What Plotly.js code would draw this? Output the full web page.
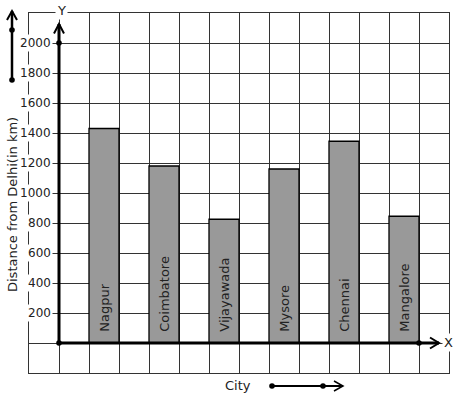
<!DOCTYPE html>
<html>
<head>
<meta charset="utf-8">
<script src="https://cdn.plot.ly/plotly-3.0.1.min.js"></script>
<style>html,body{margin:0;padding:0;background:#fff;}#chart{width:457px;height:399px;}</style>
</head>
<body>
<div id="chart"></div>
<script>
// ---- data ----
const cities = ["Nagpur", "Coimbatore", "Vijayawada", "Mysore", "Chennai", "Mangalore"];
const distances = [1430, 1180, 825, 1160, 1345, 845];
const yTickValues = [200, 400, 600, 800, 1000, 1200, 1400, 1600, 1800, 2000];
const xTitle = "City";
const yTitle = "Distance from Delhi(in km)";

// bars sit in every other grid column (1-2, 3-4, ...)
const xPos = cities.map((c, i) => 2 * i + 1.5);

const FONT = "DejaVu Sans, sans-serif";
const TXT = "#222";
const GRID = "#333";

const trace = {
  type: "bar",
  x: xPos,
  y: distances,
  width: 1,
  text: cities.map(c => "\u00a0\u00a0" + c),
  textposition: "inside",
  insidetextanchor: "start",
  textangle: -90,
  textfont: {family: FONT, size: 13, color: TXT},
  marker: {color: "#999999", line: {color: "#000", width: 1.3}},
  hoverinfo: "skip",
  cliponaxis: false
};

// helpers for decorations
const pxX = 1 / 30;        // data units per pixel (x)
const pxY = 200 / 30;      // data units per pixel (y)
// paper helpers (plot area: left 29px, top 13px, 420x360)
const PX = px => (px - 29) / 420;
const PY = py => (373 - py) / 360;

const dot = (xref, yref, x, y) => ({
  type: "circle", xref: xref, yref: yref, xsizemode: "pixel", ysizemode: "pixel",
  xanchor: x, yanchor: y, x0: -2.8, x1: 2.8, y0: -2.8, y1: 2.8,
  fillcolor: "#000", line: {color: "#000", width: 0}
});

const shapes = [
  // y axis
  {type: "line", xref: "x", yref: "y", x0: 0, x1: 0, y0: 0, y1: 319 * pxY, line: {color: "#000", width: 3}},
  {type: "path", xref: "x", yref: "y", path: `M ${-5*pxX} ${309.5*pxY} L 0 ${319*pxY} L ${5*pxX} ${309.5*pxY}`, line: {color: "#000", width: 2}},
  // x axis
  {type: "line", xref: "x", yref: "y", x0: 0, x1: 380 * pxX, y0: 0, y1: 0, line: {color: "#000", width: 3}},
  {type: "path", xref: "x", yref: "y", path: `M ${371*pxX} ${5.5*pxY} L ${380*pxX} 0 L ${371*pxX} ${-5.5*pxY}`, line: {color: "#000", width: 2}},
  dot("x", "y", 0, 0), dot("x", "y", 0, 2000), dot("x", "y", 12, 0),
  // left decorative arrow
  {type: "line", xref: "paper", yref: "paper", x0: PX(12), x1: PX(12), y0: PY(80), y1: PY(11), line: {color: "#000", width: 2.5}},
  {type: "path", xref: "paper", yref: "paper",
   path: `M ${PX(7)} ${PY(20)} L ${PX(12)} ${PY(11)} L ${PX(17)} ${PY(20)}`, line: {color: "#000", width: 2}},
  dot("paper", "paper", PX(12), PY(80)), dot("paper", "paper", PX(12), PY(30)),
  // bottom decorative arrow
  {type: "line", xref: "paper", yref: "paper", x0: PX(272), x1: PX(343), y0: PY(386), y1: PY(386), line: {color: "#000", width: 2}},
  {type: "path", xref: "paper", yref: "paper",
   path: `M ${PX(334)} ${PY(381)} L ${PX(343)} ${PY(386)} L ${PX(334)} ${PY(391)}`, line: {color: "#000", width: 1.5}},
  dot("paper", "paper", PX(272), PY(386)), dot("paper", "paper", PX(323), PY(386))
];

const annotations = [
  ...yTickValues.map(v => ({
    x: 0, y: v, xref: "x", yref: "y", xanchor: "right", yanchor: "middle", xshift: -6,
    text: String(v), showarrow: false, bgcolor: "#fff", borderpad: 1,
    font: {family: FONT, size: 12, color: TXT}
  })),
  {x: PX(61), y: PY(10), xref: "paper", yref: "paper", text: "Y", showarrow: false, bgcolor: "#fff",
   xanchor: "center", yanchor: "middle", font: {family: FONT, size: 13, color: TXT}},
  {x: 389 * pxX, y: 1 * pxY, xref: "x", yref: "y", text: "X", showarrow: false, bgcolor: "#fff",
   xanchor: "center", yanchor: "middle", font: {family: FONT, size: 13, color: TXT}},
  {x: 179 * pxX, y: PY(385), xref: "x", yref: "paper", text: xTitle, showarrow: false,
   xanchor: "center", yanchor: "middle", font: {family: FONT, size: 13, color: TXT}},
  {x: PX(12), y: PY(205), xref: "paper", yref: "paper", text: yTitle, showarrow: false, textangle: -90,
   xanchor: "center", yanchor: "middle", font: {family: FONT, size: 13, color: TXT}}
];

const layout = {
  width: 457, height: 399,
  margin: {l: 29, r: 8, t: 13, b: 26, pad: 0},
  paper_bgcolor: "#fff", plot_bgcolor: "#fff",
  showlegend: false,
  font: {family: FONT, color: TXT},
  xaxis: {range: [-1, 13], tick0: 0, dtick: 1, showticklabels: false, ticks: "",
          showgrid: true, gridcolor: GRID, gridwidth: 1, zeroline: false,
          showline: true, mirror: true, linecolor: GRID, linewidth: 1, fixedrange: true},
  yaxis: {range: [-200, 2200], tick0: 0, dtick: 200, showticklabels: false, ticks: "",
          showgrid: true, gridcolor: GRID, gridwidth: 1, zeroline: false,
          showline: true, mirror: true, linecolor: GRID, linewidth: 1, fixedrange: true},
  shapes: shapes,
  annotations: annotations
};

Plotly.newPlot("chart", [trace], layout, {displayModeBar: false, staticPlot: true});
</script>
</body>
</html>
